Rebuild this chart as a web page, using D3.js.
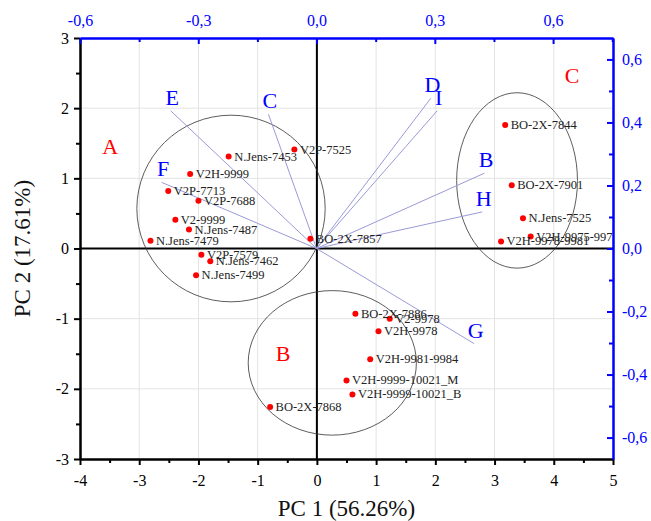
<!DOCTYPE html>
<html>
<head>
<meta charset="utf-8">
<script src="https://cdn.jsdelivr.net/npm/d3@7"></script>
<style>
  body { margin: 0; background: #fff; }
  text { font-family: "Liberation Serif", "DejaVu Serif", serif; }
</style>
</head>
<body>
<script>
// sample scores (PC1, PC2)
const pointNames = ['BO-2X-7844', 'BO-2X-7901', 'N.Jens-7525', 'V2H-9975-997', 'V2H-9978-9981',
  'V2P-7525', 'N.Jens-7453', 'V2H-9999', 'V2P-7713', 'V2P-7688', 'V2-9999', 'N.Jens-7487',
  'N.Jens-7479', 'BO-2X-7857', 'V2P-7579', 'N.Jens-7462', 'N.Jens-7499',
  'BO-2X-7886', 'V2-9978', 'V2H-9978', 'V2H-9981-9984', 'V2H-9999-10021_M', 'V2H-9999-10021_B', 'BO-2X-7868'];
const pointX = [3.18, 3.29, 3.48, 3.61, 3.11, -0.38, -1.49, -2.14, -2.51, -2.00, -2.39, -2.16,
  -2.81, -0.11, -1.95, -1.80, -2.04, 0.65, 1.23, 1.04, 0.90, 0.50, 0.60, -0.79];
const pointY = [1.76, 0.90, 0.43, 0.17, 0.10, 1.41, 1.31, 1.06, 0.82, 0.68, 0.41, 0.27,
  0.11, 0.14, -0.09, -0.18, -0.38, -0.93, -1.00, -1.18, -1.58, -1.88, -2.08, -2.26];

// variable loadings (top / right axes)
const loadNames = ['E', 'C', 'D', 'I', 'B', 'H', 'F', 'G'];
const loadX = [-0.370, -0.122, 0.290, 0.306, 0.426, 0.420, -0.393, 0.400];
const loadY = [0.437, 0.426, 0.477, 0.437, 0.239, 0.116, 0.210, -0.302];

// groups
const groupNames = ['A', 'B', 'C'];
const groupX = [-3.49, -0.57, 4.31];
const groupY = [1.45, -1.50, 2.46];
const ellipseCx = [-1.45, 0.26, 3.38];
const ellipseCy = [0.57, -1.63, 0.97];
const ellipseRx = [1.59, 1.42, 1.02];
const ellipseRy = [1.33, 1.03, 1.25];

// ticks
const xTicks = [-4, -3, -2, -1, 0, 1, 2, 3, 4, 5];
const xMinor = [-3.5, -2.5, -1.5, -0.5, 0.5, 1.5, 2.5, 3.5, 4.5];
const yTicks = [-3, -2, -1, 0, 1, 2, 3];
const yMinor = [-2.5, -1.5, -0.5, 0.5, 1.5, 2.5];
const topTicks = [-0.6, -0.3, 0, 0.3, 0.6];
const topMinor = [-0.45, -0.15, 0.15, 0.45, 0.75];
const rightTicks = [-0.6, -0.4, -0.2, 0, 0.2, 0.4, 0.6];
const rightMinor = [-0.5, -0.3, -0.1, 0.1, 0.3, 0.5];

const width = 651, height = 521;
const margin = { top: 38, right: 38, bottom: 62, left: 80 };
const innerW = width - margin.left - margin.right;
const innerH = height - margin.top - margin.bottom;

const x = d3.scaleLinear().domain([-4, 5]).range([0, innerW]);
const y = d3.scaleLinear().domain([-3, 3]).range([innerH, 0]);
const xTop = d3.scaleLinear().domain([-0.6, 0.752]).range([0, innerW]);
const yRight = d3.scaleLinear().domain([-0.668, 0.668]).range([innerH, 0]);

const fmt = (d) => {
  const s = Math.abs(d).toFixed(1).replace('.', ',');
  return (d < -1e-9 ? '-' : '') + s;
};
const fmtInt = (d) => (d < 0 ? '-' : '') + Math.abs(d);

const svg = d3.select('body').append('svg')
  .attr('width', width)
  .attr('height', height);

const g = svg.append('g').attr('transform', `translate(${margin.left},${margin.top})`);

// grid
g.append('g').selectAll('line').data(xTicks.slice(1, -1)).join('line')
  .attr('x1', x).attr('x2', x).attr('y1', 0).attr('y2', innerH)
  .attr('stroke', '#e3e3e3');
g.append('g').selectAll('line').data(yTicks.slice(1, -1)).join('line')
  .attr('y1', y).attr('y2', y).attr('x1', 0).attr('x2', innerW)
  .attr('stroke', '#e3e3e3');

// zero lines
g.append('line').attr('x1', x(0)).attr('x2', x(0)).attr('y1', 0).attr('y2', innerH)
  .attr('stroke', '#000').attr('stroke-width', 2);
g.append('line').attr('x1', 0).attr('x2', innerW).attr('y1', y(0)).attr('y2', y(0))
  .attr('stroke', '#000').attr('stroke-width', 2);

// ellipses
g.append('g').selectAll('ellipse').data(groupNames).join('ellipse')
  .attr('cx', (d, i) => x(ellipseCx[i]))
  .attr('cy', (d, i) => y(ellipseCy[i]))
  .attr('rx', (d, i) => x(ellipseRx[i]) - x(0))
  .attr('ry', (d, i) => y(0) - y(ellipseRy[i]))
  .attr('fill', 'none')
  .attr('stroke', '#333')
  .attr('stroke-width', 0.8);

// loading vectors
g.append('g').selectAll('line').data(loadNames).join('line')
  .attr('x1', xTop(0)).attr('y1', yRight(0))
  .attr('x2', (d, i) => xTop(loadX[i]))
  .attr('y2', (d, i) => yRight(loadY[i]))
  .attr('stroke', '#9a9ad8')
  .attr('stroke-width', 1);
g.append('g').selectAll('text').data(loadNames).join('text')
  .attr('x', (d, i) => xTop(loadX[i]) + 1.5)
  .attr('y', (d, i) => yRight(loadY[i]) - 6)
  .attr('text-anchor', 'middle')
  .attr('fill', '#0000ff')
  .attr('font-size', 22)
  .text((d) => d);

// group letters
g.append('g').selectAll('text').data(groupNames).join('text')
  .attr('x', (d, i) => x(groupX[i]))
  .attr('y', (d, i) => y(groupY[i]) + 7)
  .attr('text-anchor', 'middle')
  .attr('fill', '#ff0000')
  .attr('font-size', 22)
  .text((d) => d);

// points
g.append('g').selectAll('circle').data(pointNames).join('circle')
  .attr('cx', (d, i) => x(pointX[i]))
  .attr('cy', (d, i) => y(pointY[i]))
  .attr('r', 3)
  .attr('fill', '#ff0000');
g.append('g').selectAll('text').data(pointNames).join('text')
  .attr('x', (d, i) => x(pointX[i]) + 5.5)
  .attr('y', (d, i) => y(pointY[i]) + 4)
  .attr('fill', '#222')
  .attr('font-size', 12.5)
  .text((d) => d);

// axes
function styleAxis(sel, color, size) {
  sel.select('.domain').attr('stroke', color).attr('stroke-width', 2);
  sel.selectAll('.tick line').attr('stroke', color).attr('stroke-width', 2);
  sel.selectAll('.tick text').attr('fill', color).attr('font-size', size)
    .style('font-family', '"Liberation Serif", serif');
}

// bottom
const axisB = g.append('g').attr('transform', `translate(0,${innerH})`);
axisB.append('g').call(d3.axisBottom(x).tickValues(xMinor).tickSize(4).tickFormat('').tickSizeOuter(0))
  .call((s) => styleAxis(s, '#000', 16));
axisB.append('g').call(d3.axisBottom(x).tickValues(xTicks).tickSize(6).tickPadding(10).tickFormat(fmtInt).tickSizeOuter(0))
  .call((s) => styleAxis(s, '#000', 16));

// left
const axisL = g.append('g');
axisL.append('g').call(d3.axisLeft(y).tickValues(yMinor).tickSize(4).tickFormat('').tickSizeOuter(0))
  .call((s) => styleAxis(s, '#000', 16));
axisL.append('g').call(d3.axisLeft(y).tickValues(yTicks).tickSize(6).tickPadding(5).tickFormat(fmtInt).tickSizeOuter(0))
  .call((s) => styleAxis(s, '#000', 16));

// top (inward ticks)
const axisT = g.append('g');
axisT.append('g').call(d3.axisTop(xTop).tickValues(topMinor).tickSize(-4).tickFormat('').tickSizeOuter(0))
  .call((s) => styleAxis(s, '#0000ff', 16));
axisT.append('g').call(d3.axisTop(xTop).tickValues(topTicks).tickSize(-6).tickPadding(12).tickFormat(fmt).tickSizeOuter(0))
  .call((s) => styleAxis(s, '#0000ff', 16));

// right (inward ticks)
const axisR = g.append('g').attr('transform', `translate(${innerW},0)`);
axisR.append('g').call(d3.axisRight(yRight).tickValues(rightMinor).tickSize(-4).tickFormat('').tickSizeOuter(0))
  .call((s) => styleAxis(s, '#0000ff', 16));
axisR.append('g').call(d3.axisRight(yRight).tickValues(rightTicks).tickSize(-6).tickPadding(9).tickFormat(fmt).tickSizeOuter(0))
  .call((s) => styleAxis(s, '#0000ff', 16));

// axis titles
svg.append('text')
  .attr('x', margin.left + x(0.5))
  .attr('y', 516)
  .attr('text-anchor', 'middle')
  .attr('font-size', 23)
  .attr('fill', '#111')
  .text('PC 1 (56.26%)');
svg.append('text')
  .attr('transform', `translate(30,${margin.top + y(0)}) rotate(-90)`)
  .attr('text-anchor', 'middle')
  .attr('font-size', 23)
  .attr('fill', '#111')
  .text('PC 2 (17.61%)');
</script>
</body>
</html>
